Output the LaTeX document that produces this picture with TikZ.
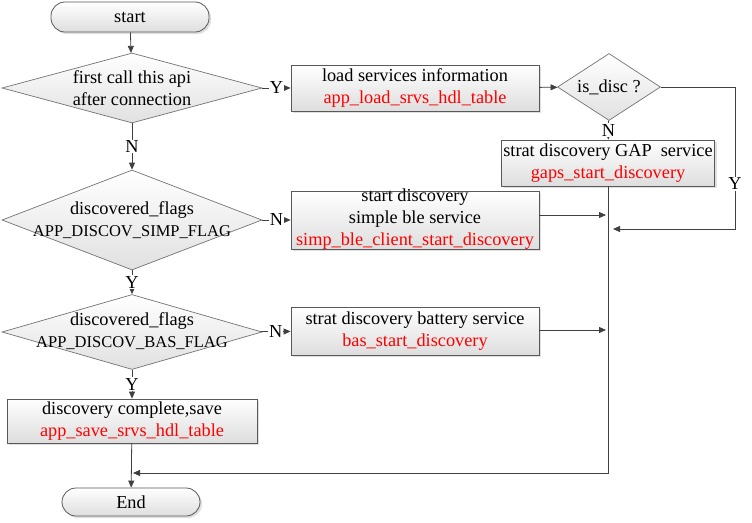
\documentclass[tikz,border=0pt]{standalone}
\usepackage{fontspec}
\setmainfont{Liberation Serif}
\usetikzlibrary{shapes.geometric,arrows.meta,shadows}
\newcommand{\capsline}[1]{{\fontsize{16.5}{22}\selectfont #1}}
\begin{document}
\begin{tikzpicture}[x=1pt,y=-1pt,
  every node/.style={font=\fontsize{18.3}{22}\selectfont},
  box/.style={draw=black!65, line width=0.8pt, top color=white, bottom color=black!13,
    drop shadow={opacity=0.25, shadow xshift=2pt, shadow yshift=-2pt},
    inner sep=0pt, align=center},
  term/.style={box, rounded corners=14pt},
  dia/.style={diamond, draw=black!55, line width=0.7pt, top color=white, bottom color=black!12, inner sep=0pt},
  txt/.style={align=center, inner sep=0pt},
  arr/.style={draw=black!75, line width=0.8pt, -{Triangle[length=7pt,width=6pt]}},
  ln/.style={draw=black!75, line width=0.8pt},
  lab/.style={fill=white, inner sep=1pt}
]
\useasboundingbox (0,0) rectangle (752,522);

% nodes
\node[term, minimum width=158pt, minimum height=30pt] (start) at (130,17) {start};

\node[dia, minimum width=260pt, minimum height=70pt] (d1) at (132,88) {};
\node[txt] (d1t) at (132,88) {first call this api\\after connection};

\node[box, minimum width=248pt, minimum height=46pt] (load) at (415,88) {};
\node[txt] (loadt) at (415,88)
  {load services information\\\textcolor{red}{app\_load\_srvs\_hdl\_table}};

\node[dia, minimum width=103pt, minimum height=67pt] (d4) at (609,87) {};
\node[txt] (d4t) at (609,87) {is\_disc ?};

\node[box, minimum width=213pt, minimum height=46pt] (gap) at (608,163) {};
\node[txt] (gapt) at (608,163)
  {strat discovery GAP\ \ service\\\textcolor{red}{gaps\_start\_discovery}};

\node[dia, minimum width=260pt, minimum height=100pt] (d2) at (132,220) {};
\node[txt] (d2t) at (132,220) {discovered\_flags\\\capsline{APP\_DISCOV\_SIMP\_FLAG}};

\node[box, minimum width=248pt, minimum height=58pt] (simp) at (415,220) {};
\node[txt] (simpt) at (415,219)
  {start discovery\\simple ble service\\\textcolor{red}{simp\_ble\_client\_start\_discovery}};

\node[dia, minimum width=260pt, minimum height=75pt] (d3) at (132,332) {};
\node[txt] (d3t) at (132,331) {discovered\_flags\\\capsline{APP\_DISCOV\_BAS\_FLAG}};

\node[box, minimum width=248pt, minimum height=48pt] (bas) at (415,331) {};
\node[txt] (bast) at (415,331)
  {strat discovery battery service\\\textcolor{red}{bas\_start\_discovery}};

\node[box, minimum width=250pt, minimum height=44pt] (comp) at (132,421) {};
\node[txt] (compt) at (132,421)
  {discovery complete,save\\\textcolor{red}{app\_save\_srvs\_hdl\_table}};

\node[term, minimum width=138pt, minimum height=28pt] (end) at (131,502) {End};

% helper coordinates
\coordinate (rt) at (735,229);
\coordinate (m1) at (613,229);
\coordinate (bc) at (608,473);
\coordinate (m2) at (133,473);
\coordinate (j1) at (606,215);
\coordinate (j2) at (606,330);

% connectors
\draw[arr] (start) -- (d1);
\draw[arr] (d1) -- node[lab]{Y} (load);
\draw[arr] (d1) -- node[lab]{N} (d2);
\draw[arr] (load) -- (d4);
\draw[arr] (d4) -- node[lab]{N} (gap);
\draw[arr] (d4.east) -| node[lab, pos=0.84]{Y} (rt) -- (m1);
\draw[arr] (d2) -- node[lab]{N} (simp);
\draw[arr] (d2) -- node[lab]{Y} (d3);
\draw[arr] (d3) -- node[lab]{N} (bas);
\draw[arr] (d3) -- node[lab]{Y} (comp);
\draw[arr] (comp) -- (end);
\draw[arr] (gap.south) -- (bc) -- (m2);
\draw[arr] (simp.east |- j1) -- (j1);
\draw[arr] (bas.east |- j2) -- (j2);
\end{tikzpicture}
\end{document}
